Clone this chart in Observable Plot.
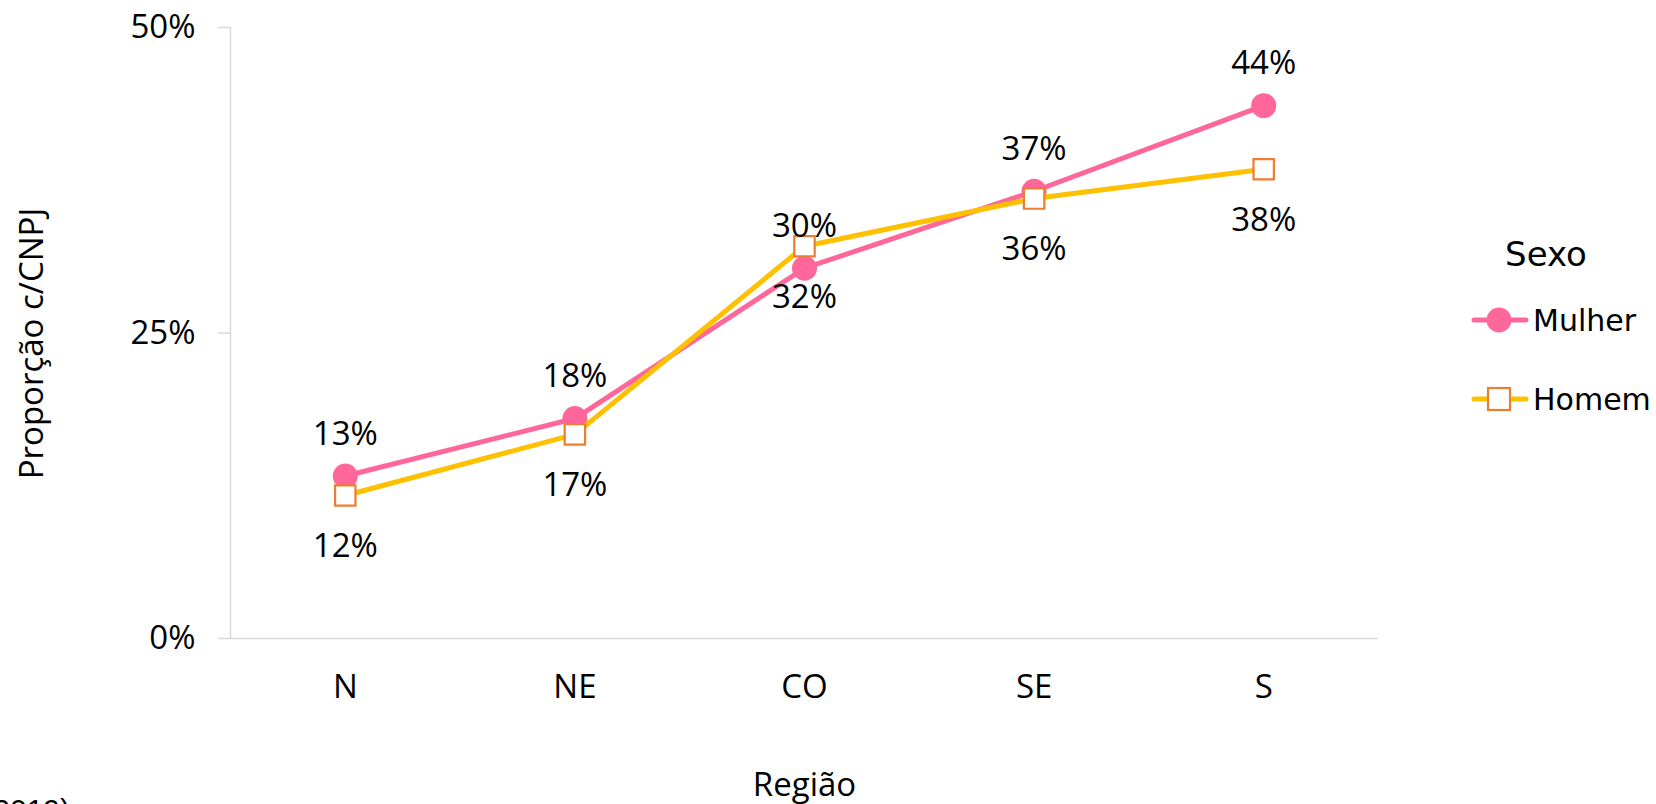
<!DOCTYPE html>
<html>
<head>
<meta charset="utf-8">
<script src="https://cdn.jsdelivr.net/npm/d3@7"></script>
<script src="https://cdn.jsdelivr.net/npm/@observablehq/plot@0.6"></script>
<style>
  html, body { margin: 0; padding: 0; overflow: hidden; background: #fff; }
  #chart { position: relative; width: 1656px; height: 804px; }
</style>
</head>
<body>
<div id="chart"></div>
<script>
const regions = ["N", "NE", "CO", "SE", "S"];
const mulher = [0.133, 0.180, 0.303, 0.366, 0.436];
const homem = [0.117, 0.167, 0.321, 0.360, 0.384];
const mulherLabels = ["13%", "18%", "30%", "37%", "44%"];
const homemLabels = ["12%", "17%", "32%", "36%", "38%"];
const yTicks = [0, 0.25, 0.5];
const seriesNames = ["Mulher", "Homem"];

const dataM = regions.map((r, i) => ({i, region: r, value: mulher[i], label: mulherLabels[i]}));
const dataH = regions.map((r, i) => ({i, region: r, value: homem[i], label: homemLabels[i]}));

const PINK = "#ff6699", YELLOW = "#ffc000", ORANGE = "#ed7d31", GRID = "#d9d9d9";
const FONT = "'Open Sans', Lato, sans-serif";
const FS = 33;
const LEGEND_FONT = "'DejaVu Sans', Verdana, sans-serif";

const plot = Plot.plot({
  width: 1656,
  height: 804,
  marginLeft: 230,
  marginRight: 278,
  marginTop: 27,
  marginBottom: 166,
  style: {fontFamily: FONT, fontSize: FS + "px", color: "#000", background: "#fff"},
  x: {type: "linear", domain: [-0.5, 4.5], axis: null},
  y: {domain: [0, 0.5], axis: null},
  marks: [
    Plot.ruleX([-0.5], {stroke: GRID, strokeWidth: 1.5}),
    Plot.ruleY([0], {stroke: GRID, strokeWidth: 1.5}),
    Plot.axisY({ticks: yTicks, tickFormat: d => Math.round(d * 100) + "%", tickSize: 12, tickPadding: 23, stroke: GRID, strokeWidth: 1.5, fontSize: FS, label: null}),
    Plot.axisX({ticks: d3.range(regions.length), tickFormat: i => regions[i], tickSize: 0, tickPadding: 36, fontSize: FS, label: null}),
    Plot.line(dataM, {x: "i", y: "value", stroke: PINK, strokeWidth: 5}),
    Plot.dot(dataM, {x: "i", y: "value", r: 12.5, fill: PINK, stroke: "none"}),
    Plot.line(dataH, {x: "i", y: "value", stroke: YELLOW, strokeWidth: 5}),
    Plot.dot(dataH, {x: "i", y: "value", symbol: "square", r: 11.5, fill: "#fff", stroke: ORANGE, strokeWidth: 2.2}),
    Plot.text(dataM, {x: "i", y: "value", text: "label", dy: -42, fontSize: FS, fill: "#000"}),
    Plot.text(dataH, {x: "i", y: "value", text: "label", dy: 51, fontSize: FS, fill: "#000"}),
    Plot.text(["Região"], {frameAnchor: "bottom", textAnchor: "middle", dy: 157, text: d => d, fontSize: FS, fill: "#000"}),
    Plot.text(["Proporção c/CNPJ"], {x: () => -0.5, y: () => 0.2414, dx: -198, textAnchor: "middle", rotate: -90, text: d => d, fontSize: FS, fill: "#000"})
  ]
});

const svg = d3.select(plot);
svg.style("overflow", "hidden");

// Legend
const lg = svg.append("g").attr("font-family", LEGEND_FONT).attr("text-anchor", "start");
lg.append("text").attr("x", 1546).attr("y", 254).attr("text-anchor", "middle").attr("dominant-baseline", "central")
  .attr("font-size", 34).text("Sexo");
const items = [
  {name: seriesNames[0], y: 320, color: PINK, kind: "circle"},
  {name: seriesNames[1], y: 399, color: YELLOW, kind: "square"}
];
for (const it of items) {
  lg.append("line").attr("x1", 1474).attr("x2", 1526).attr("y1", it.y).attr("y2", it.y)
    .attr("stroke", it.color).attr("stroke-width", 5).attr("stroke-linecap", "round");
  if (it.kind === "circle") {
    lg.append("circle").attr("cx", 1499).attr("cy", it.y).attr("r", 12.5).attr("fill", PINK);
  } else {
    lg.append("rect").attr("x", 1488).attr("y", it.y - 11).attr("width", 22).attr("height", 22)
      .attr("fill", "#fff").attr("stroke", ORANGE).attr("stroke-width", 2.2);
  }
  lg.append("text").attr("x", 1533).attr("y", it.y).attr("text-anchor", "start").attr("dominant-baseline", "central")
    .attr("font-size", 30).text(it.name);
}
// source note, cut at the bottom edge as in the reference
svg.append("text").attr("x", 70).attr("y", 820).attr("text-anchor", "end")
  .attr("font-family", "'Liberation Sans', Arial, sans-serif").attr("font-size", 30).text("(2019)");

document.getElementById("chart").appendChild(plot);
</script>
</body>
</html>
